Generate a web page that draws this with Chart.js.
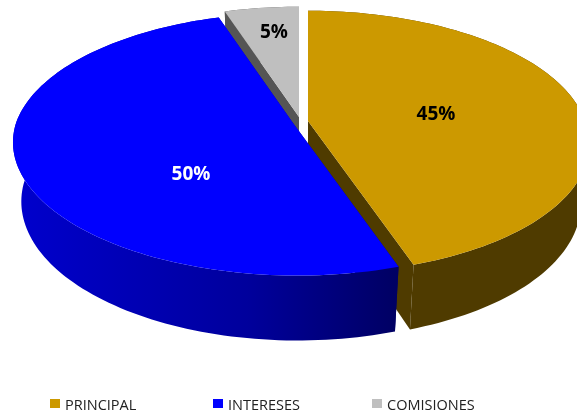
<!DOCTYPE html>
<html>
<head>
<meta charset="utf-8">
<style>
  html, body { margin: 0; padding: 0; background: #fff; }
  canvas { display: block; }
</style>
<script src="https://cdn.jsdelivr.net/npm/chart.js@4"></script>
</head>
<body>
<canvas id="pieChart" width="577" height="414"></canvas>
<script>
const categories = ["PRINCIPAL", "INTERESES", "COMISIONES"];
const shares = [45, 50, 5];

const faceColors = ["#cc9900", "#0000ff", "#bfbfbf"];
const wallColors = ["#4f3b00", null, "#555555"];
const labelColors = ["#000000", "#ffffff", "#000000"];

// Pixel position of each slice tip, its percent label and its legend swatch
const sliceOrigins = [[308, 121], [293, 123], [299, 117]];
const labelSpots = [[436, 115], [191, 175], [274, 33]];
const legendSpots = [[50, 399], [213, 399], [372, 399]];

// Back slices first so the blue one overlaps their walls
const paintOrder = [0, 2, 1];

// Perspective settings for the disc
const radiusX = 277;
const radiusY = 128;
const tilt = 0.161;
const depth = 61;
const shrink = 0.03;
const frontLean = 4;

function project(origin, u, v, z) {
  const w = 1 - tilt * v + shrink * z;
  const x = radiusX * u + frontLean * Math.max(v, 0);
  return [origin[0] + x / w, origin[1] + (radiusY * v + depth * z) / w];
}

function rimPoints(origin, start, end, z) {
  const points = [];
  const steps = Math.ceil(Math.abs(end - start) * 40);
  for (let i = 0; i <= steps; i++) {
    const angle = start + ((end - start) * i) / steps;
    points.push(project(origin, Math.cos(angle), Math.sin(angle), z));
  }
  return points;
}

function fillShape(ctx, points, fill) {
  ctx.beginPath();
  points.forEach((p, i) => (i ? ctx.lineTo(p[0], p[1]) : ctx.moveTo(p[0], p[1])));
  ctx.closePath();
  ctx.fillStyle = fill;
  ctx.fill();
}

const pie3d = {
  id: "pie3d",
  // Replaces the flat arcs, the angles still come from the doughnut controller
  beforeDatasetsDraw(chart) {
    const ctx = chart.ctx;
    const arcs = chart.getDatasetMeta(0).data;

    const blueWall = ctx.createLinearGradient(20, 0, 400, 0);
    blueWall.addColorStop(0, "#0000cc");
    blueWall.addColorStop(0.6, "#00009c");
    blueWall.addColorStop(1, "#000062");

    paintOrder.forEach((index) => {
      const arc = arcs[index];
      const origin = sliceOrigins[index];
      const wall = wallColors[index] || blueWall;
      const a = arc.startAngle;
      const b = arc.endAngle;

      const tipTop = project(origin, 0, 0, 0);
      const tipBottom = project(origin, 0, 0, 1);
      [a, b].forEach((angle) => {
        fillShape(ctx, [
          tipTop,
          project(origin, Math.cos(angle), Math.sin(angle), 0),
          project(origin, Math.cos(angle), Math.sin(angle), 1),
          tipBottom,
        ], wall);
      });

      const top = rimPoints(origin, a, b, 0);
      const bottom = rimPoints(origin, a, b, 1);
      fillShape(ctx, top.concat(bottom.reverse()), wall);
      fillShape(ctx, [tipTop].concat(top), faceColors[index]);
    });

    ctx.font = "bold 19px 'Open Sans'";
    ctx.textAlign = "center";
    ctx.textBaseline = "middle";
    shares.forEach((value, index) => {
      ctx.fillStyle = labelColors[index];
      ctx.fillText(value + "%", labelSpots[index][0], labelSpots[index][1]);
    });

    // Legend row, spaced unevenly so it is laid out by hand
    ctx.font = "14.5px 'Open Sans'";
    ctx.textAlign = "left";
    categories.forEach((name, index) => {
      const [x, y] = legendSpots[index];
      ctx.fillStyle = faceColors[index];
      ctx.fillRect(x, y, 10, 9);
      ctx.fillStyle = "#222222";
      ctx.fillText(name, x + 15, y + 7);
    });
    return false;
  },
};

new Chart(document.getElementById("pieChart"), {
  type: "pie",
  data: {
    labels: categories,
    datasets: [{ data: shares, backgroundColor: faceColors, borderWidth: 0 }],
  },
  options: {
    responsive: false,
    animation: false,
    plugins: {
      tooltip: { enabled: false },
      legend: { display: false },
    },
  },
  plugins: [pie3d],
});
</script>
</body>
</html>
